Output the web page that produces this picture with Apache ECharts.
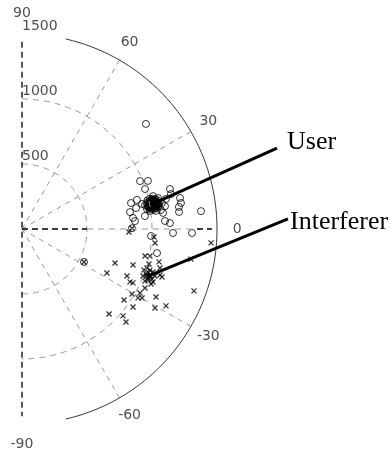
<!DOCTYPE html>
<html>
<head>
<meta charset="utf-8">
<script src="https://cdn.jsdelivr.net/npm/echarts@6/dist/echarts.min.js"></script>
<style>
  html, body { margin: 0; padding: 0; background: #fff; }
  #chart { width: 391px; height: 455px; }
</style>
</head>
<body>
<div id="chart"></div>
<script>
// Angle ticks (degrees) and range rings
const angleTicks = [90, 60, 30, 0, -30, -60, -90];
const radiusTicks = [500, 1000, 1500];
const spokeAngles = [60, 30, -30, -60];

// User measurements: [range, azimuth in degrees]
const userPoints = [
  [1250, 40.3], [980, 22.1], [1037, 20.9], [995, 18.0], [1179, 15.1], [1177, 13.2],
  [1239, 11.1], [1239, 9.3], [1219, 8.0], [1215, 6.2], [1384, 5.7], [1102, 3.2],
  [1139, 2.3], [1162, -1.5], [1308, -1.35], [994, -3.1], [1055, -10.1], [846, 0.4],
  [540, -28.0], [862, 13.4], [841, 8.9], [858, 5.7], [871, 4.0], [912, 14.2],
  [951, 6.0], [892, 10.4], [943, 11.8], [1095, 10.5], [1114, 9.1], [1079, 7.8],
  [1092, 6.5], [1131, 11.8], [1073, 12.8], [1039, 14.1],
  [991, 12.1], [1017, 12.7], [1038, 12.0], [1058, 10.9], [993, 10.3], [1014, 9.6],
  [1038, 9.8], [1060, 9.2], [974, 9.1], [994, 8.0], [1018, 8.3], [1040, 7.7],
  [964, 11.0], [1071, 10.3], [1011, 11.0], [1033, 10.7],
  [1000, 8.6], [1020, 8.9], [1045, 8.8], [1065, 9.6], [985, 9.9], [1005, 10.0],
  [1026, 10.2], [1049, 10.1], [1070, 10.8], [980, 11.4], [1000, 11.6], [1022, 11.8],
  [1046, 11.5], [1064, 11.9], [990, 12.9], [1010, 13.3], [1030, 13.0], [1052, 12.6],
  [1008, 9.2], [1030, 9.4], [1055, 10.5], [1015, 10.8], [1035, 11.2], [1028, 12.4],
  [995, 9.5], [1012, 9.9], [1040, 10.4], [1060, 11.2], [1003, 11.2], [1042, 12.3],
  [985, 10.6], [1025, 11.5], [1050, 9.5], [1018, 12.1]
];

// Interferer measurements: [range, azimuth in degrees]
const interfererPoints = [
  [823, -1.6], [1017, -3.5], [1029, -6.0], [969, -12.4], [1006, -11.9], [762, -20.1],
  [898, -18.0], [736, -27.4], [885, -24.1], [925, -26.1], [949, -25.9], [1046, -22.0],
  [1087, -22.0], [1119, -18.4], [1049, -25.6], [983, -30.6], [1033, -28.5], [956, -34.8],
  [1038, -30.7], [1065, -29.9], [1044, -35.1], [1156, -26.9], [1256, -28.1], [1190, -30.7],
  [936, -44.3], [1025, -40.7], [1073, -41.8], [1406, -19.8], [1458, -4.2], [1320, -10.1],
  [1084, -13.5], [1103, -15.8], [1138, -18.9], [540, -28.0], [846, 0.4],
  [990, -18.6], [1007, -17.3], [1034, -17.8], [1015, -19.9], [1046, -19.8], [1061, -18.2],
  [998, -21.2], [1040, -21.3], [1071, -21.0], [1027, -22.9], [1085, -19.5], [1013, -15.4],
  [1079, -23.1], [1022, -20.6], [1052, -20.4], [1030, -19.0]
];

// Pointer lines from each cluster to its caption
const userPointer = [[1042, 11.1], [2058, 17.6]];
const interfererPointer = [[1035, -20.5], [2047, 2.2]];

const outerRadius = 1500;
const axisMax = 2400;          // room for the pointer lines beyond the outer ring
const outerArcSpan = 77;
const axisReach = 1440;
const angleLabelRadius = 1655;

function arc(r, from, to, step) {
  const pts = [];
  for (let a = from; a >= to; a -= step) pts.push([r, a]);
  if (pts[pts.length - 1][1] !== to) pts.push([r, to]);
  return pts;
}

const gridGray = '#999';
const series = [];

// dashed range rings (inner ones)
radiusTicks.filter(r => r < outerRadius).forEach(r => {
  series.push({
    type: 'line', coordinateSystem: 'polar', data: arc(r, 90, -90, 1),
    showSymbol: false, silent: true, clip: false,
    lineStyle: { color: gridGray, width: 1, type: [6, 5] }
  });
});

// dashed spokes
spokeAngles.forEach(a => {
  series.push({
    type: 'line', coordinateSystem: 'polar', data: [[0, a], [outerRadius, a]],
    showSymbol: false, silent: true, clip: false,
    lineStyle: { color: gridGray, width: 1, type: [5, 5] }
  });
});

// zero-degree spoke, grey middle part
series.push({
  type: 'line', coordinateSystem: 'polar', data: [[500, 0], [1346, 0]],
  showSymbol: false, silent: true, clip: false,
  lineStyle: { color: gridGray, width: 1, type: [6, 5] }
});

// black dashed axes
[[[axisReach, 90], [0, 0], [axisReach, -90]], [[0, 0], [500, 0]], [[1346, 0], [1461, 0]]]
  .forEach(d => {
    series.push({
      type: 'line', coordinateSystem: 'polar', data: d,
      showSymbol: false, silent: true, clip: false,
      lineStyle: { color: '#000', width: 1.3, type: [6, 4] }
    });
  });

// outer solid ring
series.push({
  type: 'line', coordinateSystem: 'polar', data: arc(outerRadius, outerArcSpan, -outerArcSpan, 1),
  showSymbol: false, silent: true, clip: false,
  lineStyle: { color: '#333', width: 1 }
});

// measurements
series.push({
  name: 'User', type: 'scatter', coordinateSystem: 'polar', data: userPoints,
  symbol: 'circle', symbolSize: 7, clip: false,
  itemStyle: { color: 'rgba(0,0,0,0)', borderColor: '#000', borderWidth: 1 }
});
series.push({
  name: 'Interferer', type: 'scatter', coordinateSystem: 'polar', data: interfererPoints,
  symbol: 'path://M0,0L10,10M10,0L0,10', symbolSize: 5, clip: false,
  itemStyle: { color: 'none', borderColor: '#000', borderWidth: 1.3 }
});

// pointer lines
[userPointer, interfererPointer].forEach(d => {
  series.push({
    type: 'line', coordinateSystem: 'polar', data: d,
    showSymbol: false, silent: true, clip: false,
    lineStyle: { color: '#000', width: 3 }
  });
});

// range labels along the 90-degree axis
series.push({
  type: 'scatter', coordinateSystem: 'polar', clip: false, silent: true,
  data: radiusTicks.map(r => [r, 90]), symbolSize: 0,
  label: {
    show: true, position: 'right', distance: 0, offset: [0, -8],
    formatter: p => String(p.value[0]),
    fontFamily: 'DejaVu Sans', fontSize: 14, color: '#222'
  }
});

// angle labels around the rim
series.push({
  type: 'scatter', coordinateSystem: 'polar', clip: false, silent: true,
  data: angleTicks.map(a => [angleLabelRadius, a]), symbolSize: 0,
  label: {
    show: true, position: 'inside',
    formatter: p => String(p.value[1]),
    fontFamily: 'DejaVu Sans', fontSize: 14, color: '#222'
  }
});

const chart = echarts.init(document.getElementById('chart'), null, { renderer: 'canvas' });
chart.setOption({
  animation: false,
  backgroundColor: '#fff',
  polar: { center: [22, 229], radius: 195 * axisMax / outerRadius },
  radiusAxis: { type: 'value', min: 0, max: axisMax, show: false },
  angleAxis: { type: 'value', min: -180, max: 180, startAngle: 180, clockwise: false, show: false },
  graphic: [
    { type: 'text', left: 287, top: 129,
      style: { text: 'User', font: '26px "Liberation Serif"', fill: '#000' } },
    { type: 'text', left: 290, top: 209,
      style: { text: 'Interferer', font: '26px "Liberation Serif"', fill: '#000' } }
  ],
  series: series
});
</script>
</body>
</html>
